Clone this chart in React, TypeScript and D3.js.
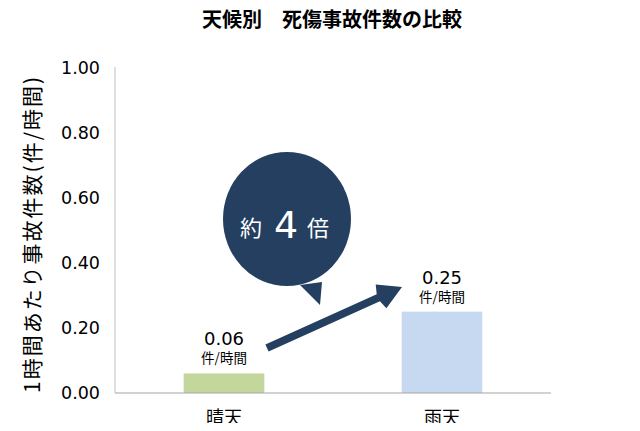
import React from "react";
import * as d3 from "d3";

const categories = ["晴天", "雨天"];
const values = [0.06, 0.25];
const valueLabels = ["0.06", "0.25"];
const unitLabel = "件/時間";
const yTicks = [0, 0.2, 0.4, 0.6, 0.8, 1.0];
const barColors = ["#C3D69B", "#C6D9F1"];
const title = "天候別　死傷事故件数の比較";
const yTitle = "1時間あたり事故件数(件/時間)";
const calloutParts = ["約", "4", "倍"];

const W = 640;
const H = 431;
const FONT = "'Noto Sans CJK JP', 'Noto Sans', sans-serif";
const NUMFONT = "'DejaVu Sans', 'Noto Sans CJK JP', sans-serif";
const NAVY = "#243F60";

export default function App() {
  const x = d3.scaleBand<string>().domain(categories).range([115, 551]).paddingInner(0.63).paddingOuter(0.315);
  const y = d3.scaleLinear().domain([0, 1]).range([393, 67.5]);

  const cx = (c: string) => (x(c) as number) + x.bandwidth() / 2;

  // arrow from first label to second label
  const ax0 = 267, ay0 = 348;
  const ax1 = 402, ay1 = 287;
  const ang = Math.atan2(ay1 - ay0, ax1 - ax0);
  const len = Math.hypot(ax1 - ax0, ay1 - ay0);
  const headLen = 26, headW = 13, shaftW = 3.8;
  const arrowPts: [number, number][] = [
    [0, -shaftW], [len - headLen, -shaftW], [len - headLen + 3, -headW], [len, 0],
    [len - headLen + 3, headW], [len - headLen, shaftW], [0, shaftW],
  ];
  const arrowPath = "M" + arrowPts.map(([u, v]) => {
    const px = ax0 + u * Math.cos(ang) - v * Math.sin(ang);
    const py = ay0 + u * Math.sin(ang) + v * Math.cos(ang);
    return `${px.toFixed(1)},${py.toFixed(1)}`;
  }).join("L") + "Z";

  // callout bubble
  const bx = 287, by = 219, brx = 64, bry = 67;
  const bubblePath = `M300,285 L320,305 L322,282 Z`;

  return (
    <div style={{ margin: -8 }}>
      <svg width={W} height={H} style={{ display: "block", fontFamily: FONT }}>
        <rect width={W} height={H} fill="#fff" />
        <text x={332} y={27} textAnchor="middle" fontSize={20} fontWeight="bold" fill="#000">{title}</text>

        {yTicks.map((t) => (
          <text key={t} x={100} y={y(t)} dy="0.36em" textAnchor="end" fontSize={17.5} fontFamily={NUMFONT} fill="#000">
            {d3.format(".2f")(t)}
          </text>
        ))}
        <text transform={`translate(33,235) rotate(-90)`} textAnchor="middle" dy="0.35em" fontSize={21}
          textLength={316} lengthAdjust="spacing" fill="#000">
          {yTitle}
        </text>

        {categories.map((c, i) => (
          <rect key={c} x={x(c)} y={y(values[i])} width={x.bandwidth()} height={y(0) - y(values[i])} fill={barColors[i]} />
        ))}

        <line x1={115} x2={115} y1={67} y2={393} stroke="#BFBFBF" strokeWidth={1} />
        <line x1={115} x2={551} y1={393} y2={393} stroke="#A6A6A6" strokeWidth={1.2} />

        {categories.map((c) => (
          <text key={c} x={cx(c)} y={424} textAnchor="middle" fontSize={18} fill="#000">{c}</text>
        ))}

        {categories.map((c, i) => (
          <g key={c}>
            <text x={cx(c)} y={y(values[i]) - 28} textAnchor="middle" fontSize={18} fontFamily={NUMFONT} fill="#000">{valueLabels[i]}</text>
            <text x={cx(c)} y={y(values[i]) - 10} textAnchor="middle" fontSize={13.5} fill="#000">{unitLabel}</text>
          </g>
        ))}

        <path d={arrowPath} fill={NAVY} />

        <ellipse cx={bx} cy={by} rx={brx} ry={bry} fill={NAVY} />
        <path d={bubblePath} fill={NAVY} />
        <text x={251} y={236} textAnchor="middle" fontSize={22} fill="#fff">{calloutParts[0]}</text>
        <text x={286} y={238} textAnchor="middle" fontSize={38} fontFamily={NUMFONT} fill="#fff">{calloutParts[1]}</text>
        <text x={318} y={236} textAnchor="middle" fontSize={22} fill="#fff">{calloutParts[2]}</text>
      </svg>
    </div>
  );
}
